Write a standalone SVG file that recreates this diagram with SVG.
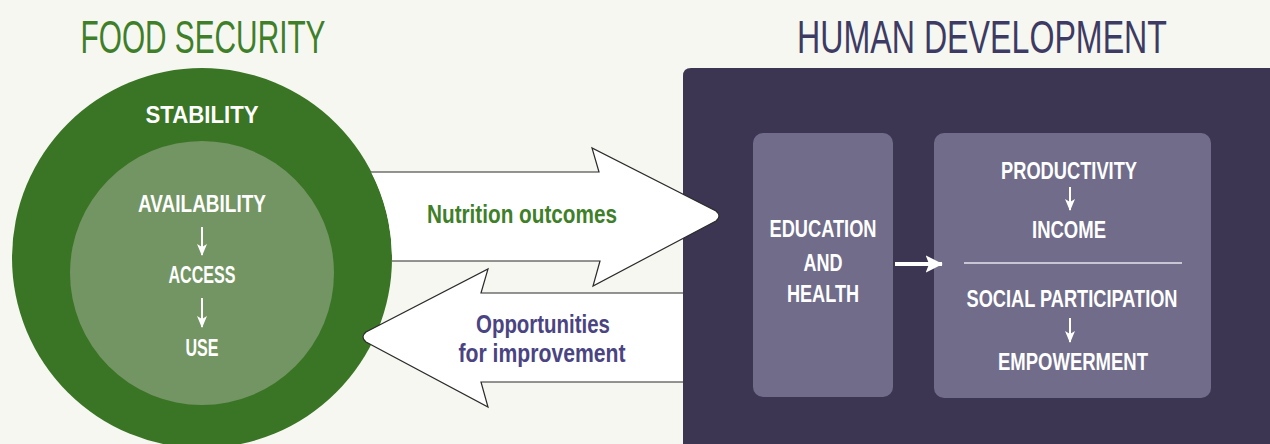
<svg xmlns="http://www.w3.org/2000/svg" width="1270" height="444" viewBox="0 0 1270 444">
<defs>
<style>
text{font-family:"Liberation Sans","DejaVu Sans",sans-serif;text-anchor:middle}
.title{font-size:46px}
.w{fill:#ffffff;font-weight:bold;font-size:24px}
.sa{stroke:#ffffff;stroke-width:2;fill:none}
.sb{stroke:#ffffff;stroke-width:4;fill:none}
.edge{fill:none;stroke:#2b2b2b;stroke-width:1.2;stroke-linejoin:miter}
</style>
<marker id="ah" viewBox="0 0 12 10" refX="11" refY="5" markerWidth="6" markerHeight="5" orient="auto" markerUnits="strokeWidth">
<path d="M0,0 L12,5 L0,10 L3,5 Z" fill="#ffffff"/>
</marker>
<marker id="ah2" viewBox="0 0 10 10" refX="9.5" refY="5" markerWidth="4.3" markerHeight="4.3" orient="auto" markerUnits="strokeWidth">
<path d="M0,0 L10,5 L0,10 L2,5 Z" fill="#ffffff"/>
</marker>
</defs>
<rect width="1270" height="444" fill="#f6f7f1"/>
<text class="title" x="203" y="53" fill="#3f7f2a" textLength="245" lengthAdjust="spacingAndGlyphs">FOOD SECURITY</text>
<text class="title" x="982" y="53" fill="#3d3b63" textLength="370" lengthAdjust="spacingAndGlyphs">HUMAN DEVELOPMENT</text>

<g id="human-development">
<path d="M683,76 Q683,68 691,68 L1270,68 L1270,444 L683,444 Z" fill="#3c3653"/>
</g>

<g id="food-security">
<circle cx="202" cy="258" r="190" fill="#3a7425"/>
<circle cx="202" cy="273" r="132" fill="#739563"/>
<text class="w" x="202" y="123" textLength="113" lengthAdjust="spacingAndGlyphs" font-size="25">STABILITY</text>
<text class="w" x="202" y="212" textLength="128" lengthAdjust="spacingAndGlyphs">AVAILABILITY</text>
<text class="w" x="202" y="283" textLength="67" lengthAdjust="spacingAndGlyphs">ACCESS</text>
<text class="w" x="202" y="356" textLength="33" lengthAdjust="spacingAndGlyphs">USE</text>
</g>

<g id="education-health">
<rect x="753" y="133" width="140" height="264" rx="10" fill="#706c8a"/>
<text class="w" x="823" y="237" textLength="107" lengthAdjust="spacingAndGlyphs">EDUCATION</text>
<text class="w" x="823" y="271" textLength="39" lengthAdjust="spacingAndGlyphs">AND</text>
<text class="w" x="823" y="302" textLength="72" lengthAdjust="spacingAndGlyphs">HEALTH</text>
</g>

<g id="outcomes">
<rect x="934" y="133" width="277" height="265" rx="10" fill="#706c8a"/>
<text class="w" x="1069" y="179" textLength="136" lengthAdjust="spacingAndGlyphs">PRODUCTIVITY</text>
<text class="w" x="1069" y="238" textLength="74" lengthAdjust="spacingAndGlyphs">INCOME</text>
<line x1="964" y1="263" x2="1182" y2="263" stroke="#e6e4ee" stroke-width="1.5"/>
<text class="w" x="1072" y="307" textLength="211" lengthAdjust="spacingAndGlyphs">SOCIAL PARTICIPATION</text>
<text class="w" x="1073" y="370" textLength="150" lengthAdjust="spacingAndGlyphs">EMPOWERMENT</text>
</g>

<g id="connectors">
<g id="nutrition-arrow">
<path d="M371,172 L599,172 L592,148 L716,211 Q722,216 716,221 L593,286 L600,261 L392,261 A190,190 0 0 0 371,172 Z" fill="#ffffff"/>
<path class="edge" d="M371,172 L599,172 L592,148 L716,211 Q722,216 716,221 L593,286 L600,261 L392,261"/>
</g>
<g id="opportunities-arrow">
<path d="M683,293 L481,293 L488,269 L366,332 Q360,337 366,342 L488,407 L481,382 L683,382 Z" fill="#ffffff"/>
<path class="edge" d="M683,293 L481,293 L488,269 L366,332 Q360,337 366,342 L488,407 L481,382 L683,382"/>
</g>
<line x1="895" y1="264" x2="942" y2="264" class="sb" marker-end="url(#ah2)"/>
<line x1="202" y1="227" x2="202" y2="255" class="sa" marker-end="url(#ah)"/>
<line x1="202" y1="298" x2="202" y2="327" class="sa" marker-end="url(#ah)"/>
<line x1="1070" y1="187" x2="1070" y2="210" class="sa" marker-end="url(#ah)"/>
<line x1="1070" y1="318" x2="1070" y2="342" class="sa" marker-end="url(#ah)"/>
</g>

<g id="labels">
<text x="522" y="223" fill="#3f7f2a" font-weight="bold" font-size="25" textLength="190" lengthAdjust="spacingAndGlyphs">Nutrition outcomes</text>
<text x="543" y="333" fill="#4a4482" font-weight="bold" font-size="25" textLength="134" lengthAdjust="spacingAndGlyphs">Opportunities</text>
<text x="542" y="362" fill="#4a4482" font-weight="bold" font-size="25" textLength="167" lengthAdjust="spacingAndGlyphs">for improvement</text>
</g>
</svg>
